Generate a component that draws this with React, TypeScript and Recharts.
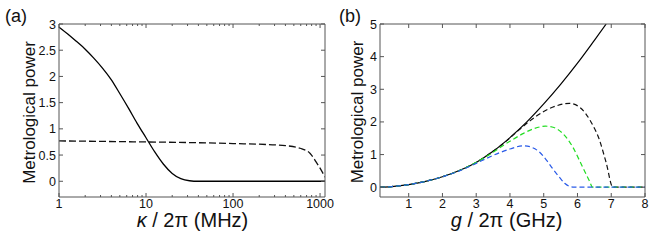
import { LineChart, Line, XAxis, YAxis } from "recharts";

// (a) metrological power vs kappa/2pi (MHz), log axis
const kappaSolid = [1, 1.26, 1.58, 2, 2.51, 3.16, 3.98, 5.01, 6.31, 7.94, 10, 12.6, 15.8, 20, 25.1, 31.6, 39.8, 100, 1000, 1140];
const powerSolid = [2.94, 2.81, 2.67, 2.52, 2.35, 2.16, 1.94, 1.67, 1.39, 1.1, 0.83, 0.56, 0.33, 0.15, 0.05, 0.01, 0, 0, 0, 0];
const kappaDashed = [1, 10, 40, 100, 250, 400, 590, 770, 900, 1000, 1140];
const powerDashed = [0.77, 0.75, 0.735, 0.72, 0.7, 0.68, 0.63, 0.53, 0.37, 0.25, 0.08];
const kappaTicks = [1, 2, 3, 4, 5, 6, 7, 8, 9, 10, 20, 30, 40, 50, 60, 70, 80, 90, 100, 200, 300, 400, 500, 600, 700, 800, 900, 1000];
const kappaLabels = [1, 10, 100, 1000];
const powerTicksA = [0, 0.5, 1, 1.5, 2, 2.5, 3];

// (b) metrological power vs g/2pi (GHz)
const gSolid = [0.15, 0.5, 1, 1.5, 2, 2.5, 3, 3.5, 4, 4.5, 5, 5.5, 6, 6.5, 6.85];
const pSolid = [0, 0.02, 0.08, 0.18, 0.32, 0.51, 0.76, 1.1, 1.52, 2.0, 2.55, 3.15, 3.8, 4.5, 5.0];
const gBlack = [0.15, 0.5, 1, 1.5, 2, 2.5, 3, 3.5, 3.9, 4.25, 4.6, 5, 5.4, 5.76, 6.1, 6.4, 6.65, 6.85, 7.05, 7.5, 8];
const pBlack = [0, 0.02, 0.08, 0.18, 0.32, 0.51, 0.76, 1.1, 1.42, 1.74, 2.04, 2.32, 2.5, 2.57, 2.42, 2.0, 1.45, 0.75, 0, 0, 0];
const gGreen = [0.15, 0.5, 1, 1.5, 2, 2.5, 3, 3.5, 3.8, 4.1, 4.4, 4.7, 5.05, 5.3, 5.57, 5.86, 6.15, 6.35, 6.45, 7, 8];
const pGreen = [0, 0.02, 0.08, 0.18, 0.32, 0.51, 0.76, 1.07, 1.28, 1.47, 1.65, 1.79, 1.87, 1.83, 1.64, 1.23, 0.62, 0.2, 0, 0, 0];
const gBlue = [0.15, 0.5, 1, 1.5, 2, 2.5, 3, 3.3, 3.7, 4, 4.4, 4.65, 4.88, 5.08, 5.3, 5.47, 5.62, 5.75, 5.9, 7, 8];
const pBlue = [0, 0.02, 0.08, 0.18, 0.32, 0.5, 0.73, 0.88, 1.06, 1.17, 1.27, 1.22, 1.07, 0.83, 0.52, 0.3, 0.12, 0.03, 0, 0, 0];
const gTicks = [1, 2, 3, 4, 5, 6, 7, 8];
const powerTicksB = [0, 1, 2, 3, 4, 5];

const AXIS = "#555";
const FONT = "'Liberation Sans', Arial, Helvetica, sans-serif";

const pts = (xs: number[], ys: number[]) => xs.map((x, i) => ({ x, y: ys[i] }));

// ticks drawn inward, box style
const makeTick =
  (side: "bottom" | "top" | "left" | "right", isMajor: (v: number) => boolean, label: boolean) =>
  (props: any) => {
    const { x, y, payload } = props;
    const v = payload.value;
    const len = isMajor(v) ? 4 : 2;
    let line;
    if (side === "bottom") line = <line x1={x} y1={y} x2={x} y2={y - len} stroke={AXIS} />;
    else if (side === "top") line = <line x1={x} y1={y} x2={x} y2={y + len} stroke={AXIS} />;
    else if (side === "left") line = <line x1={x} y1={y} x2={x + len} y2={y} stroke={AXIS} />;
    else line = <line x1={x} y1={y} x2={x - len} y2={y} stroke={AXIS} />;
    let text = null;
    if (label && isMajor(v)) {
      if (side === "bottom")
        text = (
          <text x={x} y={y + 10.5} textAnchor="middle" fontSize={12.5} fill="#111" fontFamily={FONT}>
            {v}
          </text>
        );
      else if (side === "left")
        text = (
          <text x={x - 3} y={y + 4.5} textAnchor="end" fontSize={12.5} fill="#111" fontFamily={FONT}>
            {v}
          </text>
        );
    }
    return (
      <g>
        {line}
        {text}
      </g>
    );
  };

const all = () => true;
const isDecade = (v: number) => kappaLabels.includes(v);

function PanelA() {
  return (
    <LineChart width={340} height={245} margin={{ top: 23, right: 14, bottom: 0, left: 0 }}>
      <XAxis
        xAxisId="b" type="number" dataKey="x" scale="log" domain={[1, 1140]} allowDataOverflow
        ticks={kappaTicks} interval={0} height={48} tickSize={0} tickMargin={0}
        stroke={AXIS} tickLine={false} tick={makeTick("bottom", isDecade, true)}
      />
      <XAxis
        xAxisId="t" orientation="top" type="number" dataKey="x" scale="log" domain={[1, 1140]} allowDataOverflow
        ticks={kappaTicks} interval={0} height={1} tickSize={0} tickMargin={0}
        stroke={AXIS} tickLine={false} tick={makeTick("top", isDecade, false)}
      />
      <YAxis
        yAxisId="l" type="number" domain={[-0.3, 3]} allowDataOverflow ticks={powerTicksA} interval={0}
        width={59} tickSize={0} tickMargin={0} stroke={AXIS} tickLine={false} tick={makeTick("left", all, true)}
      />
      <YAxis
        yAxisId="r" orientation="right" type="number" domain={[-0.3, 3]} allowDataOverflow ticks={powerTicksA}
        interval={0} width={1} tickSize={0} tickMargin={0} stroke={AXIS} tickLine={false}
        tick={makeTick("right", all, false)}
      />
      <Line
        xAxisId="b" yAxisId="l" data={pts(kappaDashed, powerDashed)} dataKey="y" type="monotone"
        stroke="#111" strokeWidth={1.3} strokeDasharray="7 3" dot={false} isAnimationActive={false}
      />
      <Line
        xAxisId="b" yAxisId="l" data={pts(kappaSolid, powerSolid)} dataKey="y" type="monotone"
        stroke="#000" strokeWidth={1.3} dot={false} isAnimationActive={false}
      />
    </LineChart>
  );
}

function PanelB() {
  return (
    <LineChart width={332} height={245} margin={{ top: 23, right: 18, bottom: 0, left: 0 }}>
      <XAxis
        xAxisId="b" type="number" dataKey="x" domain={[0.15, 8]} allowDataOverflow ticks={gTicks} interval={0}
        height={48} tickSize={0} tickMargin={0} stroke={AXIS} tickLine={false} tick={makeTick("bottom", all, true)}
      />
      <XAxis
        xAxisId="t" orientation="top" type="number" dataKey="x" domain={[0.15, 8]} allowDataOverflow ticks={gTicks}
        interval={0} height={1} tickSize={0} tickMargin={0} stroke={AXIS} tickLine={false}
        tick={makeTick("top", all, false)}
      />
      <YAxis
        yAxisId="l" type="number" domain={[-0.3, 5]} allowDataOverflow ticks={powerTicksB} interval={0}
        width={48} tickSize={0} tickMargin={0} stroke={AXIS} tickLine={false} tick={makeTick("left", all, true)}
      />
      <YAxis
        yAxisId="r" orientation="right" type="number" domain={[-0.3, 5]} allowDataOverflow ticks={powerTicksB}
        interval={0} width={1} tickSize={0} tickMargin={0} stroke={AXIS} tickLine={false}
        tick={makeTick("right", all, false)}
      />
      <Line
        xAxisId="b" yAxisId="l" data={pts(gSolid, pSolid)} dataKey="y" type="monotone"
        stroke="#000" strokeWidth={1.2} dot={false} isAnimationActive={false}
      />
      <Line
        xAxisId="b" yAxisId="l" data={pts(gBlack, pBlack)} dataKey="y" type="monotone"
        stroke="#111" strokeWidth={1.2} strokeDasharray="5 3" dot={false} isAnimationActive={false}
      />
      <Line
        xAxisId="b" yAxisId="l" data={pts(gGreen, pGreen)} dataKey="y" type="monotone"
        stroke="#22dd22" strokeWidth={1.2} strokeDasharray="5 3" dot={false} isAnimationActive={false}
      />
      <Line
        xAxisId="b" yAxisId="l" data={pts(gBlue, pBlue)} dataKey="y" type="monotone"
        stroke="#2a5be8" strokeWidth={1.2} strokeDasharray="5 3" dot={false} isAnimationActive={false}
      />
    </LineChart>
  );
}

export default function App() {
  return (
    <div style={{ position: "absolute", left: 0, top: 0, width: 664, height: 245, background: "#fff" }}>
      <div style={{ position: "absolute", left: 0, top: 0 }}>
        <PanelA />
      </div>
      <div style={{ position: "absolute", left: 332, top: 0 }}>
        <PanelB />
      </div>
      <svg width={664} height={245} style={{ position: "absolute", left: 0, top: 0, pointerEvents: "none" }}>
        <g fontFamily={FONT} fill="#111">
          <text x={5} y={22} fontSize={18}>(a)</text>
          <text x={339} y={22} fontSize={18}>(b)</text>
          <text x={35} y={112.5} fontSize={17} textAnchor="middle" transform="rotate(-90 35 112.5)">
            Metrological power
          </text>
          <text x={363} y={112} fontSize={17} textAnchor="middle" transform="rotate(-90 363 112)">
            Metrological power
          </text>
          <text x={192.5} y={227} fontSize={20} textAnchor="middle">
            <tspan fontStyle="italic">κ</tspan> / 2π (MHz)
          </text>
          <text x={506.5} y={227} fontSize={20} textAnchor="middle">
            <tspan fontStyle="italic">g</tspan> / 2π (GHz)
          </text>
        </g>
      </svg>
    </div>
  );
}
